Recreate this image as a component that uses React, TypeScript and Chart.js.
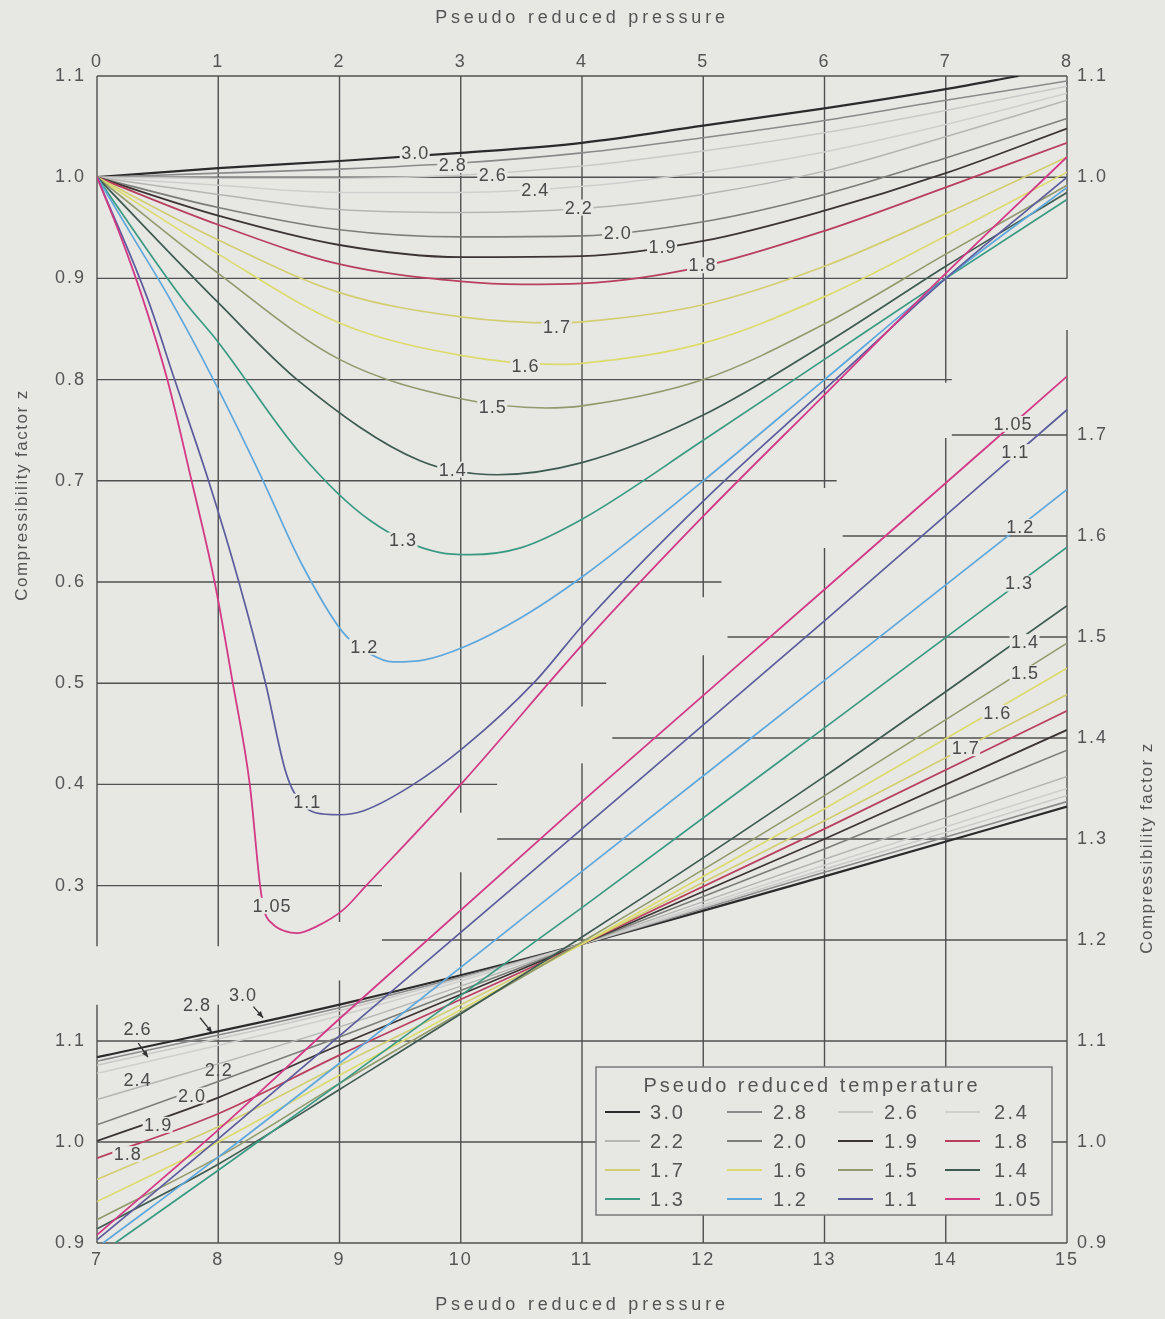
import React, { useEffect, useRef } from 'react';
import { Chart, registerables } from 'chart.js';

Chart.register(...registerables);

// ---------------- data ----------------
const TPR_LABELS = ['3.0', '2.8', '2.6', '2.4', '2.2', '2.0', '1.9', '1.8', '1.7', '1.6', '1.5', '1.4', '1.3', '1.2', '1.1', '1.05'];

const TOP_X_TICKS = [0, 1, 2, 3, 4, 5, 6, 7, 8];
const BOT_X_TICKS = [7, 8, 9, 10, 11, 12, 13, 14, 15];
const LEFT_TOP_TICKS = [0.3, 0.4, 0.5, 0.6, 0.7, 0.8, 0.9, 1.0, 1.1];
const LEFT_BOT_TICKS = [0.9, 1.0, 1.1];
const RIGHT_BOT_TICKS = [0.9, 1.0, 1.1, 1.2, 1.3, 1.4, 1.5, 1.6, 1.7];
const RIGHT_TOP_TICKS = [1.0, 1.1];

// upper family: [Ppr, z] for Ppr 0..8
const TOP_30 = [[0, 1], [1, 1.009], [2, 1.016], [3, 1.024], [4, 1.034], [5, 1.051], [6, 1.068], [7, 1.087], [7.6, 1.1]];
const TOP_28 = [[0, 1], [1, 1.004], [2, 1.008], [3, 1.014], [4, 1.024], [5, 1.039], [6, 1.056], [7, 1.076], [8, 1.095]];
const TOP_26 = [[0, 1], [1, 0.999], [2, 0.999], [3, 1.002], [4, 1.011], [5, 1.026], [6, 1.044], [7, 1.066], [8, 1.09]];
const TOP_24 = [[0, 1], [1, 0.992], [2, 0.985], [3, 0.985], [4, 0.991], [5, 1.005], [6, 1.025], [7, 1.052], [8, 1.083]];
const TOP_22 = [[0, 1], [1, 0.983], [2, 0.968], [3, 0.965], [4, 0.969], [5, 0.983], [6, 1.006], [7, 1.04], [8, 1.076]];
const TOP_20 = [[0, 1], [1, 0.97], [2, 0.948], [3, 0.941], [4, 0.942], [5, 0.956], [6, 0.983], [7, 1.019], [8, 1.058]];
const TOP_19 = [[0, 1], [1, 0.962], [2, 0.933], [3, 0.921], [4, 0.922], [5, 0.937], [6, 0.967], [7, 1.004], [8, 1.048]];
const TOP_18 = [[0, 1], [1, 0.953], [2, 0.914], [3, 0.897], [3.5, 0.894], [4, 0.895], [5, 0.912], [6, 0.947], [7, 0.99], [8, 1.034]];
const TOP_17 = [[0, 1], [1, 0.938], [2, 0.886], [3, 0.862], [3.8, 0.856], [4, 0.857], [5, 0.874], [6, 0.912], [7, 0.964], [8, 1.02]];
const TOP_16 = [[0, 1], [1, 0.924], [2, 0.856], [3, 0.824], [3.8, 0.815], [4, 0.816], [5, 0.836], [6, 0.882], [7, 0.942], [8, 1.005]];
const TOP_15 = [[0, 1], [1, 0.905], [2, 0.82], [3, 0.781], [3.7, 0.772], [4, 0.774], [5, 0.8], [6, 0.855], [7, 0.924], [8, 0.992]];
const TOP_14 = [[0, 1], [1, 0.876], [1.67, 0.798], [2.66, 0.72], [3.3, 0.706], [4, 0.718], [5, 0.765], [6, 0.835], [7, 0.912], [8, 0.985]];
const TOP_13 = [[0, 1], [0.71, 0.879], [1, 0.837], [1.67, 0.728], [2.25, 0.661], [2.83, 0.629], [3.08, 0.627], [3.5, 0.634], [4, 0.662], [5, 0.74], [6, 0.82], [7, 0.9], [8, 0.978]];
const TOP_12 = [[0, 1], [0.3, 0.94], [0.6, 0.88], [0.96, 0.8], [1.37, 0.7], [1.67, 0.622], [2.03, 0.55], [2.25, 0.529], [2.44, 0.521], [2.7, 0.523], [3.03, 0.536], [3.5, 0.565], [4, 0.605], [5, 0.7], [6, 0.8], [7, 0.9], [8, 0.99]];
const TOP_11 = [[0, 1], [0.42, 0.879], [0.64, 0.8], [0.92, 0.7], [1.17, 0.6], [1.39, 0.5], [1.55, 0.415], [1.63, 0.391], [1.8, 0.372], [2.0, 0.37], [2.2, 0.374], [2.61, 0.4], [3.03, 0.437], [3.6, 0.5], [4.04, 0.562], [5, 0.68], [6, 0.79], [7, 0.9], [8, 1.0]];
const TOP_105 = [[0, 1], [0.2, 0.94], [0.38, 0.879], [0.58, 0.8], [0.78, 0.7], [0.97, 0.6], [1.12, 0.5], [1.26, 0.4], [1.345, 0.3], [1.38, 0.275], [1.45, 0.262], [1.55, 0.255], [1.65, 0.253], [1.8, 0.259], [2.03, 0.276], [2.22, 0.3], [3.03, 0.404], [4.04, 0.543], [5, 0.665], [6, 0.785], [7, 0.905], [8, 1.02]];

// lower family: [Ppr, z] for Ppr 7..15
const BOT_30 = [[7, 1.084], [9, 1.136], [11, 1.196], [13, 1.263], [15, 1.332]];
const BOT_28 = [[7, 1.08], [9, 1.133], [11, 1.196], [13, 1.267], [15, 1.337]];
const BOT_26 = [[7, 1.076], [9, 1.13], [11, 1.196], [13, 1.27], [15, 1.343]];
const BOT_24 = [[7, 1.068], [9, 1.125], [11, 1.196], [13, 1.274], [15, 1.35]];
const BOT_22 = [[7, 1.042], [9, 1.114], [11, 1.196], [13, 1.28], [15, 1.362]];
const BOT_20 = [[7, 1.017], [8, 1.06], [9, 1.104], [11, 1.196], [13, 1.29], [15, 1.388]];
const BOT_19 = [[7, 1.001], [8, 1.044], [9, 1.096], [11, 1.196], [13, 1.3], [15, 1.408]];
const BOT_18 = [[7, 0.984], [8, 1.028], [9, 1.086], [11, 1.196], [13, 1.31], [15, 1.427]];
const BOT_17 = [[7, 0.963], [8, 1.015], [9, 1.076], [11, 1.196], [13, 1.318], [15, 1.443]];
const BOT_16 = [[7, 0.941], [8, 1.0], [9, 1.066], [11, 1.196], [13, 1.33], [15, 1.469]];
const BOT_15 = [[7, 0.923], [8, 0.985], [9, 1.058], [11, 1.198], [13, 1.343], [15, 1.494]];
const BOT_14 = [[7, 0.914], [8, 0.978], [9, 1.052], [11, 1.203], [13, 1.362], [15, 1.531]];
const BOT_13 = [[7.15, 0.9], [8, 0.972], [9, 1.058], [11, 1.232], [13, 1.41], [15, 1.589]];
const BOT_12 = [[7.05, 0.9], [8, 0.985], [9, 1.078], [11, 1.268], [13, 1.457], [15, 1.646]];
const BOT_11 = [[7, 0.903], [8, 1.003], [9, 1.105], [11, 1.31], [13, 1.516], [15, 1.725]];
const BOT_105 = [[7, 0.908], [8, 1.012], [9, 1.122], [11, 1.337], [13, 1.547], [15, 1.758]];

const TOP_CURVES = [TOP_30, TOP_28, TOP_26, TOP_24, TOP_22, TOP_20, TOP_19, TOP_18, TOP_17, TOP_16, TOP_15, TOP_14, TOP_13, TOP_12, TOP_11, TOP_105];
const BOT_CURVES = [BOT_30, BOT_28, BOT_26, BOT_24, BOT_22, BOT_20, BOT_19, BOT_18, BOT_17, BOT_16, BOT_15, BOT_14, BOT_13, BOT_12, BOT_11, BOT_105];

// curve labels: [text, Ppr, z, mask]
const TOP_LABELS: [string, number, number][] = [
  ['3.0', 2.62, 1.024], ['2.8', 2.93, 1.012], ['2.6', 3.26, 1.002], ['2.4', 3.61, 0.987],
  ['2.2', 3.97, 0.970], ['2.0', 4.29, 0.945], ['1.9', 4.66, 0.931], ['1.8', 4.99, 0.913],
  ['1.7', 3.79, 0.852], ['1.6', 3.53, 0.813], ['1.5', 3.26, 0.773], ['1.4', 2.93, 0.711],
  ['1.3', 2.52, 0.641], ['1.2', 2.2, 0.536], ['1.1', 1.73, 0.383], ['1.05', 1.44, 0.28],
];
const BOT_LABELS: [string, number, number, boolean][] = [
  ['2.6', 7.33, 1.112, false], ['2.8', 7.82, 1.136, false], ['3.0', 8.2, 1.146, false],
  ['2.4', 7.33, 1.061, false], ['2.2', 8.0, 1.071, false], ['2.0', 7.78, 1.046, true],
  ['1.9', 7.5, 1.017, true], ['1.8', 7.25, 0.988, true],
  ['1.05', 14.55, 1.711, true], ['1.1', 14.57, 1.683, true], ['1.2', 14.61, 1.609, true],
  ['1.3', 14.6, 1.553, true], ['1.4', 14.65, 1.495, true], ['1.5', 14.65, 1.464, true],
  ['1.6', 14.42, 1.425, true], ['1.7', 14.16, 1.39, true],
];
const BOT_ARROWS = [
  [7.34, 1.098, 7.42, 1.084],
  [7.85, 1.123, 7.95, 1.108],
  [8.29, 1.134, 8.37, 1.123],
];

// grid segments (upper family): horizontal [z, fromPpr, toPpr], vertical [Ppr, fromZ, toZ]
const TOP_H_GRID = [[1.1, 0, 8], [1.0, 0, 8], [0.9, 0, 8], [0.8, 0, 7.05], [0.7, 0, 6.1], [0.6, 0, 5.15], [0.5, 0, 4.2], [0.4, 0, 3.3], [0.3, 0, 2.35]];
const TOP_V_GRID = [[0, 1.1, 0.24], [1, 1.1, 0.24], [2, 1.1, 0.264], [3, 1.1, 0.372], [4, 1.1, 0.477], [5, 1.1, 0.585], [6, 1.1, 0.693], [7, 1.1, 0.797], [8, 1.1, 0.9]];
// grid segments (lower family)
const BOT_H_GRID = [[0.9, 7, 15], [1.0, 7, 15], [1.1, 7, 15], [1.2, 9.35, 15], [1.3, 10.3, 15], [1.4, 11.25, 15], [1.5, 12.2, 15], [1.6, 13.15, 15], [1.7, 14.05, 15]];
const BOT_V_GRID = [[7, 0.9, 1.136], [8, 0.9, 1.136], [9, 0.9, 1.16], [10, 0.9, 1.267], [11, 0.9, 1.375], [12, 0.9, 1.482], [13, 0.9, 1.588], [14, 0.9, 1.697], [15, 0.9, 1.804]];

// ---------------- style / layout ----------------
const COLORS = ['#2b2b2b', '#8a8a8a', '#c9c9c7', '#cfcfcd', '#b5b5b3', '#7b7e79', '#3b3535', '#b8405e', '#d2cf72', '#dcdc6e', '#919a6c', '#3e5a51', '#3a9a82', '#5ea8dc', '#5c5c9c', '#d23a86'];
const WIDTHS = [2.2, 1.6, 1.5, 1.5, 1.5, 1.6, 1.8, 1.8, 1.7, 1.7, 1.6, 1.7, 1.7, 1.7, 1.7, 1.8];

const FONT = '"Liberation Sans", Arial, Helvetica, sans-serif';
const BG = '#e7e7e4';
const INK = '#545454';
const GRID = '#505050';
const W = 1165, H = 1319;
const AREA_LEFT = 97, AREA_RIGHT = 1067, AREA_TOP = 76, AREA_BOTTOM = 1243;
const TOP_PX_PER_Z = 1012;
const BOT_PX_PER_Z = 1010;
const TOP_Y_MAX = 1.1;
const TOP_Y_MIN = TOP_Y_MAX - (AREA_BOTTOM - AREA_TOP) / TOP_PX_PER_Z;
const BOT_Y_MIN = 0.9;
const BOT_Y_MAX = BOT_Y_MIN + (AREA_BOTTOM - AREA_TOP) / BOT_PX_PER_Z;

function seg(ctx: CanvasRenderingContext2D, x1: number, y1: number, x2: number, y2: number) {
  ctx.beginPath();
  ctx.moveTo(x1, y1);
  ctx.lineTo(x2, y2);
  ctx.stroke();
}

function drawLabel(ctx: CanvasRenderingContext2D, text: string, x: number, y: number, mask: boolean) {
  ctx.font = `18px ${FONT}`;
  ctx.letterSpacing = '1px';
  const w = ctx.measureText(text).width;
  if (mask) {
    ctx.fillStyle = BG;
    ctx.fillRect(x - w / 2 - 1, y - 8, w + 2, 16);
  }
  ctx.fillStyle = '#4a4a4a';
  ctx.textAlign = 'center';
  ctx.textBaseline = 'middle';
  ctx.fillText(text, x + 0.5, y + 1);
}

const skPlugin = {
  id: 'skDecor',
  beforeDraw(chart: any) {
    const ctx: CanvasRenderingContext2D = chart.ctx;
    const s = chart.scales;
    ctx.save();
    ctx.fillStyle = BG;
    ctx.fillRect(0, 0, W, H);
    ctx.strokeStyle = GRID;
    ctx.lineWidth = 1.4;
    for (const [z, a, b] of TOP_H_GRID) {
      const y = s.yTop.getPixelForValue(z);
      seg(ctx, s.xTop.getPixelForValue(a), y, s.xTop.getPixelForValue(b), y);
    }
    for (const [p, a, b] of TOP_V_GRID) {
      const x = s.xTop.getPixelForValue(p);
      seg(ctx, x, s.yTop.getPixelForValue(a), x, s.yTop.getPixelForValue(b));
    }
    for (const [z, a, b] of BOT_H_GRID) {
      const y = s.yBot.getPixelForValue(z);
      seg(ctx, s.xBot.getPixelForValue(a), y, s.xBot.getPixelForValue(b), y);
    }
    for (const [p, a, b] of BOT_V_GRID) {
      const x = s.xBot.getPixelForValue(p);
      seg(ctx, x, s.yBot.getPixelForValue(a), x, s.yBot.getPixelForValue(b));
    }
    ctx.restore();
    ctx.letterSpacing = '2px';
  },
  afterDatasetsDraw(chart: any) {
    const ctx: CanvasRenderingContext2D = chart.ctx;
    const s = chart.scales;
    ctx.save();
    for (const [t, p, z] of TOP_LABELS) {
      drawLabel(ctx, t, s.xTop.getPixelForValue(p), s.yTop.getPixelForValue(z), true);
    }
    for (const [t, p, z, m] of BOT_LABELS) {
      drawLabel(ctx, t, s.xBot.getPixelForValue(p), s.yBot.getPixelForValue(z), m);
    }
    ctx.strokeStyle = '#333';
    ctx.fillStyle = '#333';
    ctx.lineWidth = 1.3;
    for (const [x1, y1, x2, y2] of BOT_ARROWS) {
      const ax = s.xBot.getPixelForValue(x1), ay = s.yBot.getPixelForValue(y1);
      const bx = s.xBot.getPixelForValue(x2), by = s.yBot.getPixelForValue(y2);
      seg(ctx, ax, ay, bx, by);
      const ang = Math.atan2(by - ay, bx - ax);
      ctx.beginPath();
      ctx.moveTo(bx, by);
      ctx.lineTo(bx - 7 * Math.cos(ang - 0.4), by - 7 * Math.sin(ang - 0.4));
      ctx.lineTo(bx - 7 * Math.cos(ang + 0.4), by - 7 * Math.sin(ang + 0.4));
      ctx.closePath();
      ctx.fill();
    }
    ctx.restore();
  },
  afterDraw(chart: any) {
    const ctx: CanvasRenderingContext2D = chart.ctx;
    ctx.save();
    ctx.fillStyle = INK;
    ctx.textBaseline = 'middle';
    ctx.textAlign = 'center';
    ctx.font = `18px ${FONT}`;
    ctx.letterSpacing = '3.8px';
    ctx.fillText('Pseudo reduced pressure', 582, 18);
    ctx.fillText('Pseudo reduced pressure', 582, 1305);
    ctx.font = `17px ${FONT}`;
    ctx.letterSpacing = '1.5px';
    ctx.save();
    ctx.translate(22, 495);
    ctx.rotate(-Math.PI / 2);
    ctx.fillText('Compressibility factor z', 0, 0);
    ctx.restore();
    ctx.save();
    ctx.translate(1147, 848);
    ctx.rotate(-Math.PI / 2);
    ctx.fillText('Compressibility factor z', 0, 0);
    ctx.restore();

    // legend
    const bx = 596, by = 1067, bw = 456, bh = 148;
    ctx.fillStyle = BG;
    ctx.fillRect(bx, by, bw, bh);
    ctx.strokeStyle = '#7a7a7a';
    ctx.lineWidth = 1.5;
    ctx.strokeRect(bx, by, bw, bh);
    ctx.fillStyle = INK;
    ctx.font = `20px ${FONT}`;
    ctx.letterSpacing = '3px';
    ctx.textAlign = 'center';
    ctx.fillText('Pseudo reduced temperature', 812, 1086);
    const rowY = [1112, 1141, 1170, 1199];
    const lineX = [[605, 640], [727, 762], [838, 873], [945, 980]];
    const textX = [650, 773, 884, 994];
    ctx.textAlign = 'left';
    ctx.letterSpacing = '2.5px';
    TPR_LABELS.forEach((lab, i) => {
      const r = Math.floor(i / 4), c = i % 4;
      ctx.strokeStyle = COLORS[i];
      ctx.lineWidth = 2.2;
      seg(ctx, lineX[c][0], rowY[r], lineX[c][1], rowY[r]);
      ctx.fillStyle = INK;
      ctx.fillText(lab, textX[c], rowY[r] + 1);
    });
    ctx.restore();
  },
};

function fixedTicks(values: number[]) {
  return (scale: any) => {
    scale.ticks = values.map((v) => ({ value: v }));
  };
}

const tickBase = {
  color: INK,
  font: { family: FONT, size: 18 },
  autoSkip: false,
  maxRotation: 0,
  minRotation: 0,
};

export default function App() {
  const ref = useRef<HTMLCanvasElement>(null);
  useEffect(() => {
    document.body.style.margin = '0';
    document.body.style.background = BG;
    const datasets: any[] = [];
    TOP_CURVES.forEach((pts, i) => {
      datasets.push({
        label: 'top ' + TPR_LABELS[i],
        data: pts.map(([x, y]) => ({ x, y })),
        xAxisID: 'xTop',
        yAxisID: 'yTop',
        borderColor: COLORS[i],
        borderWidth: WIDTHS[i],
        pointRadius: 0,
        fill: false,
        cubicInterpolationMode: 'monotone',
        order: 16 - i,
      });
    });
    BOT_CURVES.forEach((pts, i) => {
      datasets.push({
        label: 'bottom ' + TPR_LABELS[i],
        data: pts.map(([x, y]) => ({ x, y })),
        xAxisID: 'xBot',
        yAxisID: 'yBot',
        borderColor: COLORS[i],
        borderWidth: WIDTHS[i],
        pointRadius: 0,
        fill: false,
        cubicInterpolationMode: 'monotone',
        order: 16 - i,
      });
    });
    const noGrid = { display: false, drawTicks: false };
    const noBorder = { display: false };
    const yFmt = (v: any) => Number(v).toFixed(1);
    const chart = new Chart(ref.current!, {
      type: 'line',
      data: { datasets },
      plugins: [skPlugin],
      options: {
        responsive: false,
        devicePixelRatio: 1,
        animation: false,
        events: [],
        layout: { padding: 0 },
        plugins: { legend: { display: false }, tooltip: { enabled: false } },
        scales: {
          xTop: {
            type: 'linear', position: 'top', min: 0, max: 8,
            grid: noGrid, border: noBorder,
            ticks: { ...tickBase, padding: 3, callback: (v: any) => String(v) },
            afterBuildTicks: fixedTicks(TOP_X_TICKS),
            afterFit: (sc: any) => { sc.height = AREA_TOP; },
          },
          xBot: {
            type: 'linear', position: 'bottom', min: 7, max: 15,
            grid: noGrid, border: noBorder,
            ticks: { ...tickBase, padding: 6, callback: (v: any) => String(v) },
            afterBuildTicks: fixedTicks(BOT_X_TICKS),
            afterFit: (sc: any) => { sc.height = H - AREA_BOTTOM; },
          },
          yTop: {
            type: 'linear', position: 'left', weight: 1, min: TOP_Y_MIN, max: TOP_Y_MAX,
            grid: noGrid, border: noBorder,
            ticks: { ...tickBase, padding: 11, callback: yFmt },
            afterBuildTicks: fixedTicks(LEFT_TOP_TICKS),
            afterFit: (sc: any) => { sc.width = AREA_LEFT; },
          },
          yBotL: {
            type: 'linear', position: 'left', weight: 0, min: BOT_Y_MIN, max: BOT_Y_MAX,
            grid: noGrid, border: noBorder,
            ticks: { ...tickBase, mirror: true, padding: -42, callback: yFmt },
            afterBuildTicks: fixedTicks(LEFT_BOT_TICKS),
            afterFit: (sc: any) => { sc.width = 0; },
          },
          yBot: {
            type: 'linear', position: 'right', weight: 1, min: BOT_Y_MIN, max: BOT_Y_MAX,
            grid: noGrid, border: noBorder,
            ticks: { ...tickBase, padding: 10, callback: yFmt },
            afterBuildTicks: fixedTicks(RIGHT_BOT_TICKS),
            afterFit: (sc: any) => { sc.width = W - AREA_RIGHT; },
          },
          yTopR: {
            type: 'linear', position: 'right', weight: 0, min: TOP_Y_MIN, max: TOP_Y_MAX,
            grid: noGrid, border: noBorder,
            ticks: { ...tickBase, mirror: true, padding: 41, callback: yFmt },
            afterBuildTicks: fixedTicks(RIGHT_TOP_TICKS),
            afterFit: (sc: any) => { sc.width = 0; },
          },
        },
      } as any,
    });
    return () => chart.destroy();
  }, []);
  return (
    <div style={{ position: 'absolute', left: 0, top: 0, width: W, height: H, background: BG }}>
      <canvas ref={ref} width={W} height={H} style={{ display: 'block', width: W, height: H }} />
    </div>
  );
}
